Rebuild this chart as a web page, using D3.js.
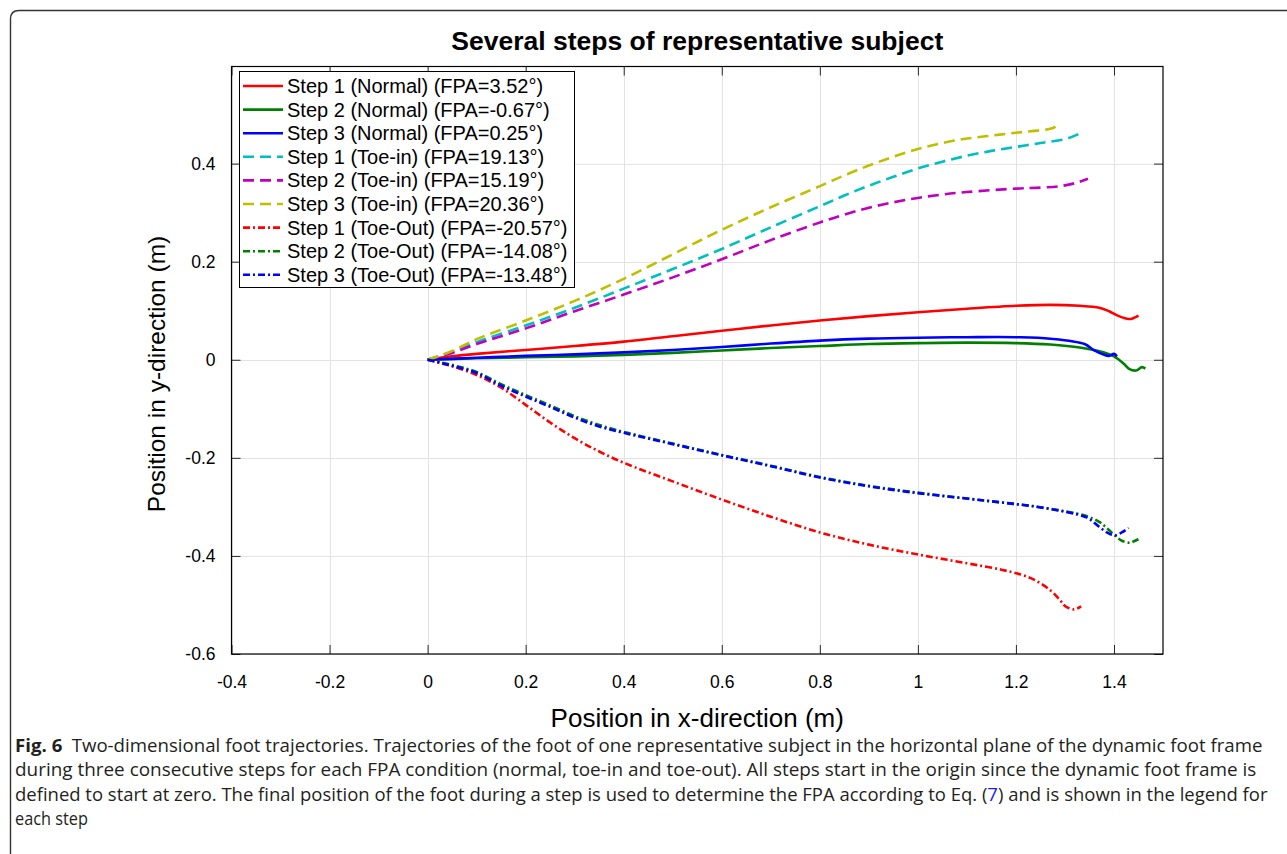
<!DOCTYPE html>
<html><head><meta charset="utf-8">
<script src="https://cdn.jsdelivr.net/npm/d3@7"></script>
<style>
html,body{margin:0;padding:0;background:#fff;}
svg{display:block;}
</style></head>
<body>
<svg id="chart" width="1287" height="854"></svg>
<script>
// ---------- DATA ----------
const xTicks = [-0.4,-0.2,0,0.2,0.4,0.6,0.8,1,1.2,1.4];
const yTicks = [-0.6,-0.4,-0.2,0,0.2,0.4];
const xTickLabels = ["-0.4","-0.2","0","0.2","0.4","0.6","0.8","1","1.2","1.4"];
const yTickLabels = ["-0.6","-0.4","-0.2","0","0.2","0.4"];

const seriesNames = [
  "Step 1 (Normal) (FPA=3.52°)",
  "Step 2 (Normal) (FPA=-0.67°)",
  "Step 3 (Normal) (FPA=0.25°)",
  "Step 1 (Toe-in) (FPA=19.13°)",
  "Step 2 (Toe-in) (FPA=15.19°)",
  "Step 3 (Toe-in) (FPA=20.36°)",
  "Step 1 (Toe-Out) (FPA=-20.57°)",
  "Step 2 (Toe-Out) (FPA=-14.08°)",
  "Step 3 (Toe-Out) (FPA=-13.48°)"
];

const normal1 = [[0,0],[0.05,0.007],[0.1,0.012],[0.2,0.02],[0.3,0.028],[0.4,0.037],[0.5,0.048],[0.6,0.059],[0.7,0.07],[0.8,0.08],[0.9,0.089],[1.0,0.097],[1.1,0.104],[1.2,0.110],[1.27,0.112],[1.33,0.110],[1.37,0.106],[1.39,0.099],[1.41,0.089],[1.43,0.083],[1.44,0.085],[1.45,0.090]];
const normal2 = [[0,0],[0.1,0.003],[0.2,0.005],[0.3,0.007],[0.4,0.010],[0.5,0.014],[0.6,0.019],[0.7,0.024],[0.8,0.028],[0.9,0.032],[1.0,0.034],[1.1,0.035],[1.2,0.034],[1.27,0.031],[1.33,0.025],[1.38,0.015],[1.40,0.007],[1.42,-0.008],[1.43,-0.018],[1.445,-0.022],[1.457,-0.015],[1.464,-0.018]];
const normal3 = [[0,0],[0.1,0.004],[0.2,0.008],[0.3,0.011],[0.4,0.015],[0.5,0.020],[0.6,0.026],[0.7,0.033],[0.8,0.039],[0.9,0.043],[1.0,0.045],[1.1,0.046],[1.2,0.046],[1.27,0.043],[1.34,0.032],[1.36,0.019],[1.38,0.010],[1.39,0.008],[1.40,0.012],[1.406,0.007]];
const toeIn1 = [[0,0],[0.05,0.016],[0.1,0.036],[0.2,0.070],[0.3,0.106],[0.4,0.145],[0.5,0.185],[0.6,0.226],[0.7,0.270],[0.8,0.313],[0.85,0.335],[0.9,0.355],[0.95,0.373],[1.0,0.390],[1.05,0.404],[1.1,0.416],[1.15,0.426],[1.2,0.434],[1.25,0.442],[1.30,0.450],[1.325,0.459],[1.335,0.466]];
const toeIn2 = [[0,0],[0.05,0.014],[0.1,0.032],[0.2,0.064],[0.3,0.099],[0.4,0.133],[0.5,0.168],[0.6,0.205],[0.7,0.244],[0.8,0.280],[0.85,0.296],[0.9,0.310],[0.95,0.321],[1.0,0.330],[1.05,0.337],[1.1,0.342],[1.2,0.349],[1.25,0.351],[1.29,0.354],[1.32,0.360],[1.347,0.369]];
const toeIn3 = [[0,0],[0.05,0.018],[0.1,0.042],[0.2,0.080],[0.3,0.120],[0.4,0.165],[0.5,0.215],[0.6,0.265],[0.7,0.311],[0.8,0.354],[0.85,0.376],[0.9,0.396],[0.95,0.414],[1.0,0.430],[1.05,0.442],[1.1,0.451],[1.15,0.457],[1.2,0.463],[1.25,0.468],[1.274,0.472],[1.287,0.480]];
const toeOut1 = [[0,0],[0.02,-0.005],[0.05,-0.013],[0.1,-0.031],[0.15,-0.057],[0.2,-0.092],[0.25,-0.128],[0.3,-0.160],[0.35,-0.187],[0.4,-0.210],[0.5,-0.248],[0.6,-0.285],[0.7,-0.320],[0.8,-0.352],[0.9,-0.377],[1.0,-0.397],[1.1,-0.415],[1.17,-0.428],[1.21,-0.438],[1.24,-0.450],[1.27,-0.470],[1.29,-0.490],[1.30,-0.502],[1.318,-0.509],[1.333,-0.503]];
const toeOut2 = [[0,0],[0.03,-0.006],[0.06,-0.013],[0.1,-0.025],[0.15,-0.050],[0.2,-0.072],[0.25,-0.093],[0.3,-0.115],[0.35,-0.133],[0.4,-0.147],[0.5,-0.171],[0.6,-0.194],[0.7,-0.216],[0.8,-0.239],[0.9,-0.257],[1.0,-0.271],[1.1,-0.283],[1.17,-0.291],[1.23,-0.298],[1.30,-0.309],[1.345,-0.319],[1.369,-0.330],[1.382,-0.340],[1.399,-0.356],[1.416,-0.369],[1.433,-0.373],[1.443,-0.369],[1.45,-0.366]];
const toeOut3 = [[0,0],[0.03,-0.007],[0.06,-0.015],[0.1,-0.027],[0.15,-0.053],[0.2,-0.075],[0.25,-0.096],[0.3,-0.118],[0.35,-0.136],[0.4,-0.149],[0.5,-0.172],[0.6,-0.195],[0.7,-0.217],[0.8,-0.240],[0.9,-0.258],[1.0,-0.272],[1.1,-0.283],[1.17,-0.291],[1.23,-0.298],[1.30,-0.310],[1.345,-0.322],[1.369,-0.340],[1.389,-0.354],[1.403,-0.358],[1.416,-0.352],[1.43,-0.343]];

const seriesColors = ["#ff0000","#008000","#0000ff","#00bfbf","#bf00bf","#bfbf00","#ff0000","#008000","#0000ff"];
const seriesStyles = ["solid","solid","solid","dash","dash","dash","dashdot","dashdot","dashdot"];
const seriesData = [normal1, normal2, normal3, toeIn1, toeIn2, toeIn3, toeOut1, toeOut2, toeOut3];

const captionLines = [
  [{t:"Fig. 6",b:true},{t:"\u2002Two-dimensional foot trajectories. Trajectories of the foot of one representative subject in the horizontal plane of the dynamic foot frame"}],
  [{t:"during three consecutive steps for each FPA condition (normal, toe-in and toe-out). All steps start in the origin since the dynamic foot frame is"}],
  [{t:"defined to start at zero. The final position of the foot during a step is used to determine the FPA according to Eq. ("},{t:"7",link:true},{t:") and is shown in the legend for"}],
  [{t:"each step"}]
];

// ---------- LAYOUT ----------
const svg = d3.select("#chart");
const W = 1287, H = 854;
const L = 231.5, R = 1163, T = 66.5, B = 654;

// outer figure frame
svg.append("path")
  .attr("d", `M10.5,${H+5} L10.5,19 Q10.5,10.5 19,10.5 L${W+5},10.5`)
  .attr("fill","none").attr("stroke","#333").attr("stroke-width",1.4);

const x = d3.scaleLinear().domain([-0.4,1.5]).range([L,R]);
const y = d3.scaleLinear().domain([-0.6,0.598]).range([B,T]);

// grid
const g = svg.append("g");
g.selectAll(".vg").data(xTicks).enter().append("line")
  .attr("x1",d=>Math.round(x(d))+0.5).attr("x2",d=>Math.round(x(d))+0.5)
  .attr("y1",T).attr("y2",B).attr("stroke","#e3e3e3").attr("stroke-width",1);
g.selectAll(".hg").data(yTicks).enter().append("line")
  .attr("y1",d=>Math.round(y(d))+0.5).attr("y2",d=>Math.round(y(d))+0.5)
  .attr("x1",L).attr("x2",R).attr("stroke","#e3e3e3").attr("stroke-width",1);

// series
svg.append("clipPath").attr("id","clip").append("rect")
  .attr("x",L).attr("y",T).attr("width",R-L).attr("height",B-T);
const line = d3.line().x(d=>x(d[0])).y(d=>y(d[1])).curve(d3.curveCatmullRom.alpha(0.5));
const dashFor = s => s==="dash" ? "11,6" : (s==="dashdot" ? "7,3,2,3" : null);
const lines = svg.append("g").attr("clip-path","url(#clip)");
seriesData.forEach((data,i)=>{
  lines.append("path").datum(data)
    .attr("d",line)
    .attr("fill","none")
    .attr("stroke",seriesColors[i])
    .attr("stroke-width",2.6)
    .attr("stroke-dasharray",dashFor(seriesStyles[i]))
    .attr("stroke-linejoin","round");
});

// axes via d3 axis generators (inward ticks on all sides)
const tickLen = 9;
const FONT = "'Liberation Sans', Arial, Helvetica, sans-serif";
const axB = d3.axisBottom(x).tickValues(xTicks).tickFormat((d,i)=>xTickLabels[i]).tickSizeInner(-tickLen).tickSizeOuter(0).tickPadding(22);
const axT = d3.axisTop(x).tickValues(xTicks).tickFormat("").tickSizeInner(-tickLen).tickSizeOuter(0);
const axL = d3.axisLeft(y).tickValues(yTicks).tickFormat((d,i)=>yTickLabels[i]).tickSizeInner(-tickLen).tickSizeOuter(0).tickPadding(16);
const axR = d3.axisRight(y).tickValues(yTicks).tickFormat("").tickSizeInner(-tickLen).tickSizeOuter(0);
function styleAxis(sel){
  sel.select(".domain").remove();
  sel.selectAll(".tick line").attr("stroke","#262626").attr("stroke-width",1);
  sel.selectAll(".tick text").attr("fill","#000").style("font-family",FONT).style("font-size","17.5px");
}
svg.append("g").attr("transform",`translate(0,${B})`).call(axB).call(styleAxis);
svg.append("g").attr("transform",`translate(0,${T})`).call(axT).call(styleAxis);
svg.append("g").attr("transform",`translate(${L},0)`).call(axL).call(styleAxis);
svg.append("g").attr("transform",`translate(${R},0)`).call(axR).call(styleAxis);

// box
svg.append("rect").attr("x",L).attr("y",T).attr("width",R-L).attr("height",B-T)
  .attr("fill","none").attr("stroke","#000").attr("stroke-width",1.2);

// title & axis labels
svg.append("text").attr("x",(L+R)/2).attr("y",50).attr("text-anchor","middle")
  .style("font-family",FONT).style("font-weight","bold").style("font-size","26.5px")
  .text("Several steps of representative subject");
svg.append("text").attr("x",(L+R)/2).attr("y",727).attr("text-anchor","middle")
  .style("font-family",FONT).style("font-size","26px")
  .text("Position in x-direction (m)");
svg.append("text").attr("transform",`translate(165,374) rotate(-90)`).attr("text-anchor","middle")
  .style("font-family",FONT).style("font-size","24.5px")
  .text("Position in y-direction (m)");

// legend
const lgX = 239, lgY = 71, lgW = 335, lgH = 216, rowH = 23.6;
svg.append("rect").attr("x",lgX+0.5).attr("y",lgY+0.5).attr("width",lgW).attr("height",lgH)
  .attr("fill","#fff").attr("stroke","#000").attr("stroke-width",1);
seriesNames.forEach((name,i)=>{
  const cy = lgY + 15 + i*rowH;
  svg.append("line").attr("x1",lgX+4).attr("x2",lgX+44).attr("y1",cy).attr("y2",cy)
    .attr("stroke",seriesColors[i]).attr("stroke-width",2.6)
    .attr("stroke-dasharray",dashFor(seriesStyles[i]));
  svg.append("text").attr("x",lgX+48).attr("y",cy).attr("dy","0.35em")
    .style("font-family",FONT).style("font-size","20px").text(name);
});

// caption: each line is one text, horizontally condensed with a scale transform
const CAP = "'Open Sans', 'Noto Sans', sans-serif";
const capY = [752, 776.4, 800.8, 825.2];
const capW = [1248, 1242, 1253, 73];
captionLines.forEach((parts,li)=>{
  const grp = svg.append("g");
  const t = grp.append("text").attr("x",0).attr("y",0)
    .style("font-family",CAP).style("font-size","18px").attr("fill","#231f20");
  parts.forEach(p=>{
    t.append("tspan").text(p.t)
      .style("font-weight",p.b?"bold":"normal")
      .attr("fill",p.link?"#1a1aff":"#231f20");
  });
  const nat = t.node().getComputedTextLength();
  const k = capW[li]/nat;
  grp.attr("transform",`translate(15,${capY[li]}) scale(${k},1)`);
});
</script>
</body></html>
